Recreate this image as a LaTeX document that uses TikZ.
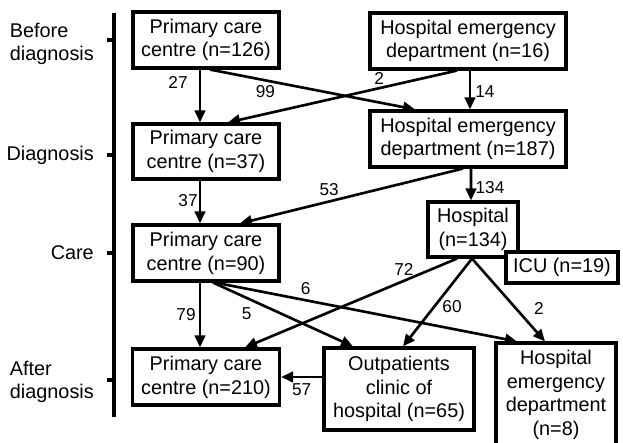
\documentclass[tikz,border=0pt]{standalone}
\usepackage{fontspec}
\setmainfont{Liberation Sans}
\usetikzlibrary{arrows.meta}

\begin{document}
\begin{tikzpicture}[x=0.02cm,y=-0.02cm,
  font=\fontsize{11.3}{13.5}\selectfont,
  box/.style={draw,line width=1.8pt,fill=white,align=center,inner sep=0pt},
  flow/.style={line width=1.5pt,-{Triangle[length=2.4mm,width=2.1mm]}},
  num/.style={font=\fontsize{9.8}{11}\selectfont,inner sep=0pt}]

\useasboundingbox (0,0) rectangle (623,443);

% time axis
\coordinate (top) at (114,13);
\coordinate (bot) at (114,417);
\draw[line width=1.8pt] (top) -- (bot);

\coordinate (tbefore) at (114,40);
\coordinate (tdiag) at (114,155);
\coordinate (tcare) at (114,253);
\coordinate (tafter) at (114,380);
\foreach \t in {tbefore,tdiag,tcare,tafter}
  \draw[line width=1.8pt] (\t) -- ++(-7,0);

\node[anchor=east,align=left] (lbefore) at (100,44) {Before\\diagnosis};
\node[anchor=east] (ldiag) at (100,155) {Diagnosis};
\node[anchor=east] (lcare) at (100,253) {Care};
\node[anchor=east,align=left] (lafter) at (100,382) {After\\diagnosis};

% boxes
\node[box,minimum width=2.92cm,minimum height=1.12cm] (pcc1) at (206,40) {Primary care\\centre (n=126)};
\node[box,minimum width=3.92cm,minimum height=1.12cm] (hed1) at (468,41) {Hospital emergency\\department (n=16)};
\node[box,minimum width=2.92cm,minimum height=1.1cm] (pcc2) at (206,151.5) {Primary care\\centre (n=37)};
\node[box,minimum width=3.92cm,minimum height=1.12cm] (hed2) at (468,139) {Hospital emergency\\department (n=187)};
\node[box,minimum width=2.92cm,minimum height=1.12cm] (pcc3) at (206,253) {Primary care\\centre (n=90)};
\node[box,minimum width=1.8cm,minimum height=1.1cm] (hosp) at (473,229.5) {Hospital\\(n=134)};
\node[box,minimum width=2.24cm,minimum height=0.62cm] (icu) at (562,267.5) {ICU (n=19)};
\node[box,minimum width=2.94cm,minimum height=1.12cm] (pcc4) at (206,377) {Primary care\\centre (n=210)};
\node[box,minimum width=3cm,minimum height=1.64cm] (opc) at (399,389) {Outpatients\\clinic of\\hospital (n=65)};
\node[box,minimum width=2.4cm,minimum height=2.08cm] (hed3) at (556,395) {Hospital\\emergency\\department\\(n=8)};

% flows
\draw[flow] ([xshift=-0.12cm]pcc1.south) -- node[num,pos=.25,xshift=-0.44cm] {27} ([xshift=-0.12cm]pcc2.north);
\draw[flow] ([xshift=0.08cm]pcc1.south) -- node[num,pos=.27,yshift=-0.22cm] {99} ([xshift=-1.06cm]hed2.north);
\draw[flow] ([xshift=-0.22cm]hed1.south) -- node[num,pos=.34,yshift=0.19cm] {2} ([xshift=0.44cm]pcc2.north);
\draw[flow] ([xshift=0.04cm]hed1.south) -- node[num,pos=.55,xshift=0.3cm] {14} ([xshift=0.04cm]hed2.north);
\draw[flow] ([xshift=-0.12cm]pcc2.south) -- node[num,pos=.46,xshift=-0.24cm] {37} ([xshift=-0.12cm]pcc3.north);
\draw[flow] ([xshift=-0.1cm]hed2.south) -- node[num,pos=.6,yshift=0.23cm] {53} ([xshift=0.68cm]pcc3.north);
\draw[flow] ([xshift=0.06cm]hed2.south) -- node[num,pos=.6,xshift=0.38cm] {134} ([xshift=-0.04cm]hosp.north);
\draw[flow] ([xshift=-0.12cm]pcc3.south) -- node[num,pos=.5,xshift=-0.28cm] {79} ([xshift=-0.12cm]pcc4.north);
\draw[flow] ([xshift=0.14cm]pcc3.south) -- node[num,pos=.24,yshift=-0.31cm] {5} ([xshift=-0.92cm]opc.north);
\draw[flow] ([xshift=0.18cm]pcc3.south) -- node[num,pos=.3,yshift=0.23cm] {6} ([xshift=-0.78cm]hed3.north);
\draw[flow] ([xshift=-0.32cm]hosp.south) -- node[num,pos=.25,yshift=0.23cm] {72} ([xshift=0.78cm]pcc4.north);
\draw[flow] ([xshift=-0.02cm]hosp.south) -- node[num,pos=.55,xshift=0.36cm] {60} ([xshift=0.08cm]opc.north);
\draw[flow] ([xshift=-0.02cm]hosp.south) -- node[num,pos=.6,xshift=0.46cm] {2} ([xshift=-0.22cm]hed3.north);
\draw[flow] (opc.west |- pcc4.east) -- node[num,pos=.5,yshift=-0.26cm] {57} (pcc4.east);

\end{tikzpicture}
\end{document}
